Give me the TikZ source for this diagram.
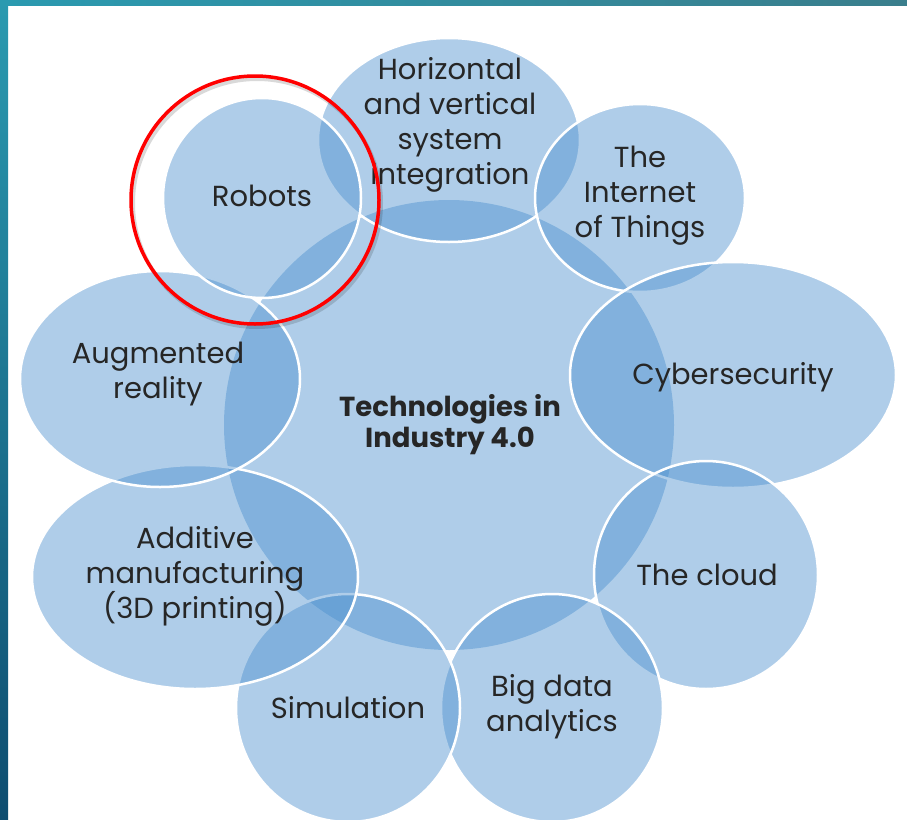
\documentclass[tikz,border=0pt]{standalone}
\usepackage{fontspec}
\setmainfont{Poppins}
\usetikzlibrary{shapes.geometric}
\definecolor{bubblefill}{RGB}{73,142,205}
\definecolor{textgray}{RGB}{38,38,38}
\definecolor{barteal}{RGB}{42,154,176}
\definecolor{barblue}{RGB}{14,77,112}
\definecolor{barright}{RGB}{58,126,140}
\tikzset{
  bubble/.style 2 args = {ellipse, minimum width=#1, minimum height=#2,
                inner sep=0pt, fill=bubblefill, fill opacity=0.44,
                draw=white, line width=2.5pt},
  hub/.style = {circle, minimum size=#1, inner sep=0pt,
                fill=bubblefill, fill opacity=0.44},
  lbl/.style = {align=center, text=textgray, inner sep=0pt,
                font=\fontsize{29}{35}\selectfont},
  hublbl/.style = {lbl, font=\bfseries\fontsize{27.5}{31}\selectfont}
}

\begin{document}
\begin{tikzpicture}[x=1pt, y=-1pt]
	\useasboundingbox (0,0) rectangle (907,819);
	
	% Frame bars
	\shade[left color=barteal, right color=barright] (0,0) rectangle (907,5);
	\shade[top color=barteal, bottom color=barblue] (0,0) rectangle (8,819);
	
	% Centre
	\node[hub=450pt] (hub) at (449,425) {};
	
	% Bubbles (clockwise, robots last)
	\node[bubble={262pt}{204pt}] (hv)        at (449,140) {};
	\node[bubble={210pt}{188pt}] (iot)       at (640,198) {};
	\node[bubble={326pt}{226pt}] (cyber)     at (733,375) {};
	\node[bubble={224pt}{228pt}] (cloud)     at (706,575) {};
	\node[bubble={222pt}{228pt}] (bigdata)   at (552,708) {};
	\node[bubble={224pt}{228pt}] (sim)       at (348,708) {};
	\node[bubble={326pt}{224pt}] (additive)  at (195,577) {};
	\node[bubble={280pt}{216pt}] (augmented) at (160,379) {};
	\node[bubble={198pt}{200pt}] (robots)    at (262,198) {};
	
	% Labels
	\node[hublbl] (hubtext) at (450,425) {Technologies in\\Industry 4.0};
	\node[lbl] (hvtext)        at (450,125) {Horizontal\\and vertical\\system\\integration};
	\node[lbl] (iottext)       at (640,196) {The\\Internet\\of Things};
	\node[lbl] (cybertext)     at (733,377) {Cybersecurity};
	\node[lbl] (cloudtext)     at (707,575) {The cloud};
	\node[lbl] (bigdatatext)   at (552,707) {Big data\\analytics};
	\node[lbl] (simtext)       at (348,708) {Simulation};
	\node[lbl] (additivetext)  at (195,576) {Additive\\manufacturing\\(3D printing)};
	\node[lbl] (augmentedtext) at (158,374) {Augmented\\reality};
	\node[lbl] (robotstext)    at (262,196) {Robots};
	
	% Highlight ring
	\node[circle, minimum size=248pt, inner sep=0pt, draw=black,
	      draw opacity=0.15, line width=4pt] (focusshadow) at (257,203) {};
	\node[circle, minimum size=248pt, inner sep=0pt, draw=red,
	      line width=3.5pt] (focus) at (255,200) {};
	
\end{tikzpicture}
\end{document}
